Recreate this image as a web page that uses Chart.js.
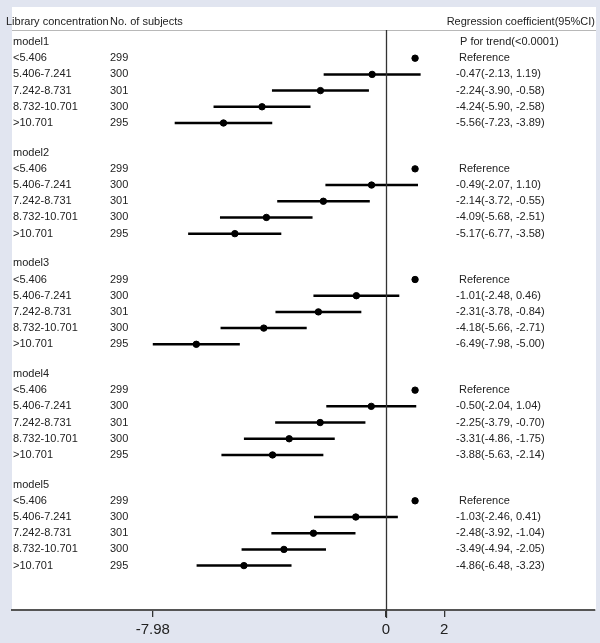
<!DOCTYPE html>
<html>
<head>
<meta charset="utf-8">
<script src="https://cdn.jsdelivr.net/npm/chart.js@4"></script>
<style>
  body { margin: 0; background: #e1e5f0; }
  #wrap { width: 600px; height: 643px; }
</style>
</head>
<body>
<div id="wrap"><canvas id="chart" width="600" height="643"></canvas></div>
<script>
// data
const models = ["model1", "model2", "model3", "model4", "model5"];
const categories = ["<5.406", "5.406-7.241", "7.242-8.731", "8.732-10.701", ">10.701"];
const subjects = [299, 300, 301, 300, 295];
const estimates = [
    [-0.47, -2.24, -4.24, -5.56],
    [-0.49, -2.14, -4.09, -5.17],
    [-1.01, -2.31, -4.18, -6.49],
    [-0.50, -2.25, -3.31, -3.88],
    [-1.03, -2.48, -3.49, -4.86]
];
const lowerCI = [
    [-2.13, -3.90, -5.90, -7.23],
    [-2.07, -3.72, -5.68, -6.77],
    [-2.48, -3.78, -5.66, -7.98],
    [-2.04, -3.79, -4.86, -5.63],
    [-2.46, -3.92, -4.94, -6.48]
];
const upperCI = [
    [1.19, -0.58, -2.58, -3.89],
    [1.10, -0.55, -2.51, -3.58],
    [0.46, -0.84, -2.71, -5.00],
    [1.04, -0.70, -1.75, -2.14],
    [0.41, -1.04, -2.05, -3.23]
];
const referenceValue = 1;
const trendText = "P for trend(<0.0001)";
const xTicks = [-7.98, 0, 2];

// layout helpers
const GROUP_STEP = 6.83;
const rowY = (g, r) => g * GROUP_STEP + r;
const textColor = "#222";
const bodyFont = "11px 'Liberation Sans', Arial, sans-serif";

const datasets = [];
models.forEach((m, g) => {
    estimates[g].forEach((est, i) => {
        const y = rowY(g, i + 2);
        datasets.push({
            type: "line",
            data: [{ x: lowerCI[g][i], y: y }, { x: upperCI[g][i], y: y }],
            borderColor: "#000",
            borderWidth: 2.5,
            pointRadius: 0
        });
    });
});
const points = [];
models.forEach((m, g) => {
    points.push({ x: referenceValue, y: rowY(g, 1) });
    estimates[g].forEach((est, i) => points.push({ x: est, y: rowY(g, i + 2) }));
});
datasets.push({
    type: "scatter",
    data: points,
    backgroundColor: "#000",
    borderColor: "#000",
    pointRadius: 3.2
});

const decor = {
    id: "decor",
    beforeDraw(chart) {
        const { ctx, chartArea } = chart;
        ctx.save();
        ctx.fillStyle = "#fff";
        ctx.fillRect(12, 7, 584, chartArea.bottom - 7);
        ctx.restore();
    },
    afterDatasetsDraw(chart) {
        const { ctx, chartArea, scales } = chart;
        const x = scales.x, y = scales.y;
        ctx.save();
        // header underline
        ctx.strokeStyle = "#b8b8b8";
        ctx.lineWidth = 1;
        ctx.beginPath();
        ctx.moveTo(12, 30.5);
        ctx.lineTo(596, 30.5);
        ctx.stroke();
        // zero line
        const x0 = Math.round(x.getPixelForValue(0)) + 0.5;
        ctx.strokeStyle = "#333";
        ctx.lineWidth = 1.3;
        ctx.beginPath();
        ctx.moveTo(x0, 30);
        ctx.lineTo(x0, chartArea.bottom + 8);
        ctx.stroke();

        ctx.fillStyle = textColor;
        ctx.font = bodyFont;
        ctx.textBaseline = "middle";
        ctx.textAlign = "left";
        ctx.fillText("Library concentration", 6, 22);
        ctx.fillText("No. of subjects", 110, 22);
        ctx.textAlign = "right";
        ctx.fillText("Regression coefficient(95%CI)", 595, 22);
        ctx.textAlign = "left";
        models.forEach((m, g) => {
            ctx.fillText(m, 13, y.getPixelForValue(rowY(g, 0)));
            if (g === 0) ctx.fillText(trendText, 460, y.getPixelForValue(rowY(g, 0)));
            categories.forEach((c, i) => {
                const py = y.getPixelForValue(rowY(g, i + 1));
                ctx.fillText(c, 13, py);
                ctx.fillText(String(subjects[i]), 110, py);
                let s;
                if (i === 0) s = "Reference";
                else {
                    const k = i - 1;
                    s = estimates[g][k].toFixed(2) + "(" + lowerCI[g][k].toFixed(2) + ", " + upperCI[g][k].toFixed(2) + ")";
                }
                ctx.fillText(s, i === 0 ? 459 : 456, py);
            });
        });
        ctx.restore();
    }
};

new Chart(document.getElementById("chart"), {
    data: { datasets: datasets },
    options: {
        responsive: false,
        animation: false,
        layout: { padding: { left: 12, right: 4, top: 30, bottom: 0 } },
        plugins: { legend: { display: false }, tooltip: { enabled: false } },
        scales: {
            x: {
                type: "linear",
                min: -12.8,
                max: 7.16,
                afterBuildTicks: axis => { axis.ticks = xTicks.map(v => ({ value: v })); },
                afterFit: scale => { scale.height = 33; },
                ticks: {
                    autoSkip: false,
                    maxRotation: 0,
                    padding: 4,
                    color: "#222",
                    font: { family: "'Liberation Sans', Arial, sans-serif", size: 15 },
                    callback: v => String(v)
                },
                grid: { drawOnChartArea: false, drawTicks: true, tickLength: 7, color: "#333", lineWidth: 1.3 },
                border: { display: true, color: "#555", width: 2 }
            },
            y: {
                type: "linear",
                display: false,
                reverse: true,
                min: -0.74,
                max: 35.06
            }
        }
    },
    plugins: [decor]
});
</script>
</body>
</html>
